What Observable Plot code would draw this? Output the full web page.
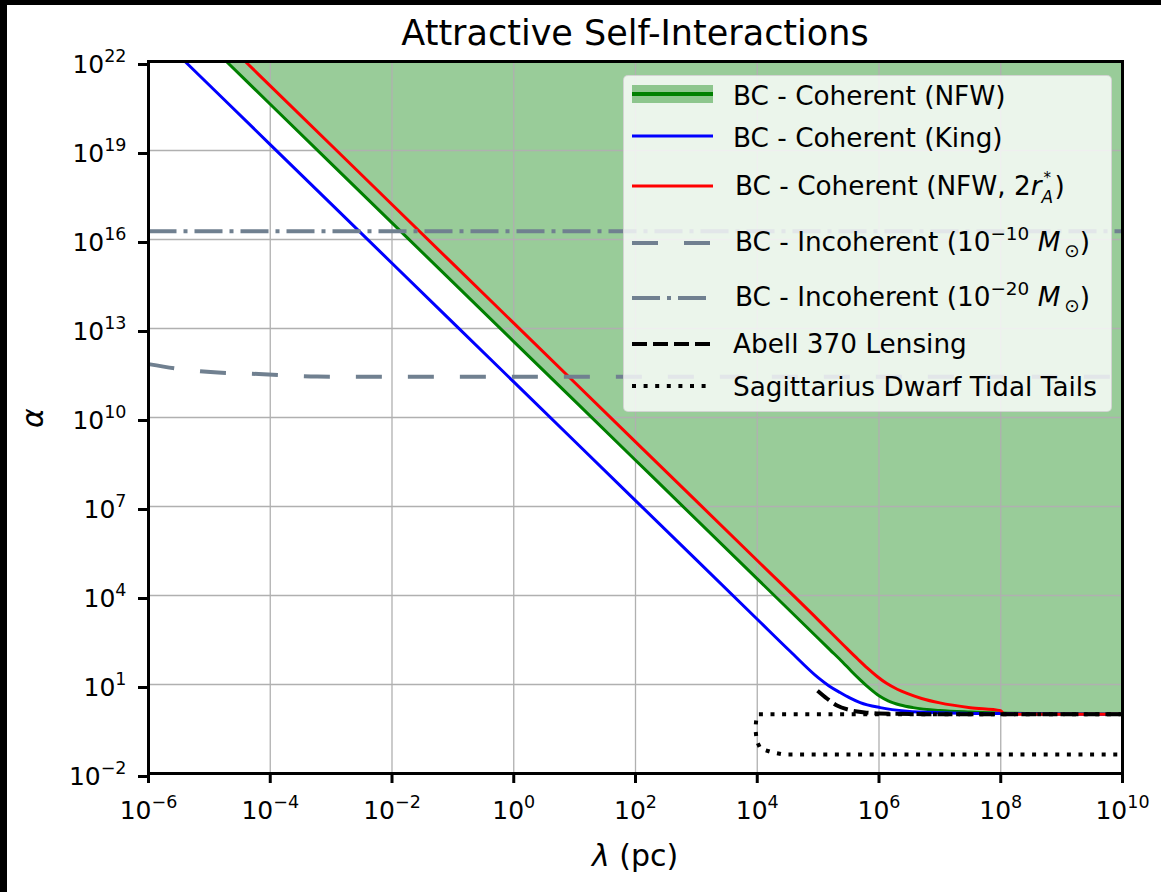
<!DOCTYPE html>
<html>
<head>
<meta charset="utf-8">
<script src="https://cdn.jsdelivr.net/npm/d3@7"></script>
<script src="https://cdn.jsdelivr.net/npm/@observablehq/plot@0.6"></script>
<style>
  html, body { margin: 0; padding: 0; background: #000; width: 1161px; height: 892px; overflow: hidden; }
  #fig { position: absolute; left: 7px; top: 5px; width: 1154px; height: 887px; background: #fff;
         font-family: "DejaVu Sans", sans-serif; color: #000; overflow: hidden; }
  #fig svg.chart { position: absolute; left: 0; top: 0; }
  .lbl { position: absolute; white-space: nowrap; line-height: 1; }
  #title { left: 141px; width: 974px; top: 11px; text-align: center; font-size: 35px; }
  #xlabel { left: 141px; width: 974px; top: 836px; text-align: center; font-size: 30px; }
  #ylabel { left: -24px; top: 398px; width: 100px; height: 30px; line-height: 30px; text-align: center;
            font-size: 30px; transform: rotate(-90deg); }
  .legend { position: absolute; left: 616px; top: 70px; width: 487px; height: 335px;
            background: rgba(255,255,255,0.8); border: 1px solid rgba(204,204,204,0.8); border-radius: 5px; }
  .legend .handle { position: absolute; left: 8px; }
  .legend .text { position: absolute; height: 30px; line-height: 30px; font-size: 26.3px; white-space: nowrap; }
  .sup { font-size: 0.7em; position: relative; top: -0.6em; }
  .sub { font-size: 0.7em; position: relative; top: 0.3em; margin-left: 4px; }
  .ss { display: inline-block; position: relative; width: 13px; height: 26px; }
  .ss .s7 { position: absolute; left: 0; line-height: 12px; }
  .ss .up { top: 3.3px; left: 2px; font-size: 15px; }
  .ss .dn { top: 22.4px; font-size: 17px; }
</style>
</head>
<body>
<div id="fig">
  <div id="title" class="lbl">Attractive Self-Interactions</div>
  <div id="xlabel" class="lbl"><i>λ</i> (pc)</div>
  <div id="ylabel" class="lbl"><i>α</i></div>
</div>
<script>
// Tick positions (powers of ten)
const xTickExp = [-6, -4, -2, 0, 2, 4, 6, 8, 10];
const yTickExp = [-2, 1, 4, 7, 10, 13, 16, 19, 22];

// Bose condensate, coherent, NFW profile (log10 lambda [pc], log10 alpha)
const nfwLogLambda = [-4.72, -4, -2, 0, 2, 4, 5, 5.2, 5.4, 5.55, 5.7, 5.85, 6.0, 6.15, 6.35, 6.56, 7, 7.5, 8, 9, 10];
const nfwLogAlpha  = [22, 20.56, 16.56, 12.56, 8.56, 4.56, 2.56, 2.16, 1.76, 1.44, 1.14, 0.86, 0.62, 0.45, 0.31, 0.22, 0.12, 0.07, 0.04, 0.01, 0];

// Coherent, King profile
const kingLogLambda = [-5.4, -4, -2, 0, 2, 4, 4.54, 5.0, 5.18, 5.36, 5.52, 5.69, 6.02, 6.46, 7, 8, 10];
const kingLogAlpha  = [22, 19.2, 15.2, 11.2, 7.2, 3.2, 2.12, 1.23, 0.95, 0.73, 0.55, 0.39, 0.22, 0.1, 0.05, 0.02, 0];

// Coherent, NFW with 2 r_A*
const nfw2LogLambda = [-4.41, -4, -2, 0, 2, 4, 5, 5.48, 5.65, 5.81, 5.97, 6.13, 6.3, 6.46, 6.7, 7, 7.5, 8, 8.05, 10];
const nfw2LogAlpha  = [22, 21.18, 17.18, 13.18, 9.18, 5.18, 3.18, 2.2, 1.86, 1.55, 1.27, 1.03, 0.84, 0.7, 0.53, 0.38, 0.22, 0.12, 0, 0];

// Incoherent, 1e-10 solar masses
const incoh10LogLambda = [-6, -5.5, -4.98, -4.11, -3.23, -2, 0, 5, 10];
const incoh10LogAlpha  = [11.8, 11.64, 11.53, 11.46, 11.38, 11.37, 11.37, 11.37, 11.37];

// Incoherent, 1e-20 solar masses
const incoh20LogLambda = [-6, 10];
const incoh20LogAlpha  = [16.28, 16.28];

// Abell 370 lensing bound
const abellLogLambda = [4.99, 5.15, 5.31, 5.5, 5.64, 5.8, 6, 7, 10];
const abellLogAlpha  = [0.79, 0.52, 0.29, 0.15, 0.09, 0.05, 0.02, 0, 0];

// Sagittarius dwarf tidal tails contour
const sagLogLambda = [10, 4.02, 3.99, 3.97, 3.99, 4.05, 4.25, 4.43, 10];
const sagLogAlpha  = [0, 0, -0.05, -0.48, -0.89, -1.16, -1.29, -1.36, -1.36];

const legendLabels = [
  'BC - Coherent (NFW)',
  'BC - Coherent (King)',
  'BC - Coherent (NFW, 2<i>r</i><span class="ss"><span class="s7 up">*</span><span class="s7 dn"><i>A</i></span></span>)',
  'BC - Incoherent (10<span class="sup">\u221210</span> <i>M</i><span class="sub">\u2299</span>)',
  'BC - Incoherent (10<span class="sup">\u221220</span> <i>M</i><span class="sub">\u2299</span>)',
  'Abell 370 Lensing',
  'Sagittarius Dwarf Tidal Tails'
];

const GREEN = "green", BLUE = "blue", RED = "red", SLATE = "#708090", BLACK = "black";

const rows = (lx, la) => lx.map((v, i) => ({lambda: 10 ** v, alpha: 10 ** la[i]}));
const nfw = rows(nfwLogLambda, nfwLogAlpha);
const king = rows(kingLogLambda, kingLogAlpha);
const nfw2 = rows(nfw2LogLambda, nfw2LogAlpha);
const incoh10 = rows(incoh10LogLambda, incoh10LogAlpha);
const incoh20 = rows(incoh20LogLambda, incoh20LogAlpha);
const abell = rows(abellLogLambda, abellLogAlpha);
const sag = rows(sagLogLambda, sagLogAlpha);

const xTicks = xTickExp.map(e => 10 ** e);
const yTicks = yTickExp.map(e => 10 ** e);
const yTop = yTicks[yTicks.length - 1];
const powFmt = d => `10^${Math.round(Math.log10(d))}`;

const chart = Plot.plot({
  width: 1154,
  height: 887,
  marginLeft: 141,
  marginRight: 39,
  marginTop: 56,
  marginBottom: 119,
  className: "chart",
  style: {fontFamily: "DejaVu Sans, sans-serif", fontSize: "25px", background: "transparent", color: "black", overflow: "visible"},
  x: {type: "log", domain: [xTicks[0], xTicks[xTicks.length - 1]]},
  y: {type: "log", domain: [yTicks[0], yTop]},
  marks: [
    Plot.areaY(nfw, {x: "lambda", y1: "alpha", y2: yTop, fill: GREEN, fillOpacity: 0.4, curve: "monotone-x"}),
    Plot.gridX(xTicks, {stroke: "#b0b0b0", strokeOpacity: 1, strokeWidth: 1.3}),
    Plot.gridY(yTicks, {stroke: "#b0b0b0", strokeOpacity: 1, strokeWidth: 1.3}),
    Plot.line(nfw, {x: "lambda", y: "alpha", stroke: GREEN, strokeWidth: 3, curve: "monotone-x"}),
    Plot.line(king, {x: "lambda", y: "alpha", stroke: BLUE, strokeWidth: 3, curve: "monotone-x"}),
    Plot.line(nfw2, {x: "lambda", y: "alpha", stroke: RED, strokeWidth: 3, curve: "monotone-x"}),
    Plot.line(incoh10, {x: "lambda", y: "alpha", stroke: SLATE, strokeWidth: 4, strokeDasharray: "26,26", strokeLinecap: "butt", curve: "monotone-x"}),
    Plot.line(incoh20, {x: "lambda", y: "alpha", stroke: SLATE, strokeWidth: 4, strokeDasharray: "28,7,4,7", strokeLinecap: "butt"}),
    Plot.line(abell, {x: "lambda", y: "alpha", stroke: BLACK, strokeWidth: 4, strokeDasharray: "15,6", strokeLinecap: "butt", curve: "monotone-x"}),
    Plot.line(sag, {x: "lambda", y: "alpha", stroke: BLACK, strokeWidth: 4, strokeDasharray: "4,7.6", strokeLinecap: "butt"}),
    Plot.axisX({ticks: xTicks, tickFormat: powFmt, tickSize: 10, tickPadding: 18, strokeWidth: 3, fontSize: 25, label: null}),
    Plot.axisY({ticks: yTicks, tickFormat: powFmt, tickSize: 10, tickPadding: 12, strokeWidth: 3, fontSize: 25, dy: 3, label: null}),
    Plot.frame({stroke: "black", strokeWidth: 3})
  ]
});

// Render "10^n" tick labels with a raised exponent
const SVGNS = "http://www.w3.org/2000/svg";
chart.querySelectorAll('g[aria-label="x-axis tick label"] text, g[aria-label="y-axis tick label"] text').forEach(t => {
  const m = /^10\^(-?\d+)$/.exec(t.textContent);
  if (!m) return;
  t.textContent = "";
  const base = document.createElementNS(SVGNS, "tspan");
  base.textContent = "10";
  const exp = document.createElementNS(SVGNS, "tspan");
  exp.textContent = m[1].replace("-", "\u2212");
  exp.setAttribute("font-size", "17.5");
  exp.setAttribute("dy", "-11");
  t.append(base, exp);
});

const fig = document.getElementById("fig");
fig.insertBefore(chart, fig.firstChild);

// Legend
const legend = document.createElement("div");
legend.className = "legend";
const textLeft = [109, 109, 111, 111, 111, 109, 109];
const textCenter = [20, 62, 108, 166, 221, 268, 311];
const handleCenter = [18, 60, 110, 167, 222, 268, 310];
const handleStyles = [
  {stroke: GREEN, width: 4, dash: null, band: true},
  {stroke: BLUE, width: 3, dash: null},
  {stroke: RED, width: 3, dash: null},
  {stroke: SLATE, width: 4, dash: "26,26"},
  {stroke: SLATE, width: 4, dash: "28,7,4,7"},
  {stroke: BLACK, width: 4, dash: "15,6"},
  {stroke: BLACK, width: 4, dash: "4,7.6"}
];
legendLabels.forEach((label, i) => {
  const s = handleStyles[i];
  const svg = d3.create("svg").attr("class", "handle").attr("width", 81).attr("height", 24)
    .style("top", (handleCenter[i] - 12) + "px");
  if (s.band) svg.append("rect").attr("x", 0).attr("y", 3).attr("width", 81).attr("height", 18)
    .attr("fill", GREEN).attr("fill-opacity", 0.4);
  svg.append("line").attr("x1", 0).attr("x2", 81).attr("y1", 12).attr("y2", 12)
    .attr("stroke", s.stroke).attr("stroke-width", s.width)
    .attr("stroke-dasharray", s.dash);
  legend.appendChild(svg.node());
  const txt = document.createElement("div");
  txt.className = "text";
  txt.style.left = textLeft[i] + "px";
  txt.style.top = (textCenter[i] - 15) + "px";
  txt.innerHTML = label;
  legend.appendChild(txt);
});
fig.appendChild(legend);
</script>
</body>
</html>
